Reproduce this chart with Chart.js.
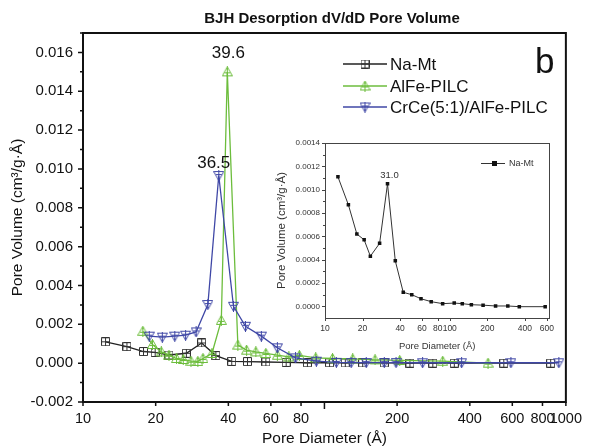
<!DOCTYPE html>
<html>
<head>
<meta charset="utf-8">
<title>BJH Desorption dV/dD Pore Volume</title>
<script src="https://cdn.jsdelivr.net/npm/chart.js@4.4.1/dist/chart.umd.min.js"></script>
<style>
body{margin:0;background:#fff;}
#box{position:relative;width:590px;height:448px;}
#main{position:absolute;left:0;top:0;}
#inset{position:absolute;left:270px;top:130px;}
</style>
</head>
<body>
<div id="box">
<canvas id="main" width="590" height="448"></canvas>
<canvas id="inset" width="290" height="222"></canvas>
</div>
<script>
// values (pore diameter in Å, dV/dD in cm3/g·Å)
const naMtX = [12.4,15.2,17.8,19.9,22.7,26.8,31.0,35.5,41.3,48.0,57.2,69.4,85,105,122,144,177,226,281,345,553,865];
const naMtY = [0.00110,0.00085,0.00060,0.00055,0.00042,0.00051,0.00104,0.00039,0.00009,0.00008,0.00006,0.00004,0.00002,0.00002,0.00001,0.00001,0.00001,0.0,0.0,0.0,0.0,0.0];
const alFeX = [17.7,19.4,21.1,22.7,24.4,26.0,28.0,29.9,31.4,34.2,37.4,39.6,43.8,47.6,52.0,57.2,63.8,71.2,78.7,92,108,131,162,205,309,476];
const alFeY = [0.00164,0.00096,0.00058,0.00041,0.00024,0.00019,0.00010,0.00009,0.00024,0.00050,0.00220,0.01500,0.00093,0.00067,0.00058,0.00050,0.00041,0.00032,0.00040,0.00027,0.00024,0.00022,0.00017,0.00014,0.00010,0.0];
const crCeX = [18.8,21.3,24.0,26.6,29.4,32.9,36.5,42.0,47.1,54.8,63.8,75.9,92.6,112,129,149,177,198,255,370,592,935];
const crCeY = [0.00139,0.00134,0.00139,0.00144,0.00161,0.00302,0.00966,0.00293,0.00190,0.00139,0.00079,0.00027,0.00010,0.00004,0.00003,0.00003,0.00003,0.00003,0.00002,0.00002,0.00002,0.00002];

const seriesNames = ['Na-Mt','AlFe-PILC','CrCe(5:1)/AlFe-PILC'];
const xTicks = [10,20,40,60,80,100,200,400,600,800,1000];
const yTicks = [-0.002,0,0.002,0.004,0.006,0.008,0.010,0.012,0.014,0.016];
const peakText = ['39.6','36.5'];
const peakX = [39.6,36.5];
const peakY = [0.0150,0.00966];

// inset: Na-Mt alone
const insetX = [12.7,15.4,18.0,20.6,23.1,27.4,31.7,36.6,42.4,49.6,58.8,71,87.7,108.6,126,149,185,233,292,361,582];
const insetY = [0.00111,0.00087,0.00062,0.00057,0.00043,0.00054,0.00105,0.00039,0.00012,0.00010,0.000065,0.00004,0.000023,0.000028,0.000023,0.000014,0.00001,0.000003,0.000003,-0.000003,-0.000003];
const insetXTicks = [10,20,40,60,80,100,200,400,600];
const insetYTicks = [0,0.0002,0.0004,0.0006,0.0008,0.0010,0.0012,0.0014];

Chart.defaults.font.family = "'Liberation Sans', Arial, sans-serif";
Chart.defaults.color = '#111';

function marker(kind, color) {
	let s = kind == 'sq' ? 9 : 11;
	let c = document.createElement('canvas');
	c.width = s; c.height = s;
	let g = c.getContext('2d');
	g.strokeStyle = color;
	g.lineWidth = 1;
	g.beginPath();
	if (kind == 'sq') {
		g.rect(0.5,0.5,8,8);
		g.moveTo(4.5,0.5); g.lineTo(4.5,8.5);
		g.moveTo(0.5,4.5); g.lineTo(8.5,4.5);
	} else if (kind == 'up') {
		g.moveTo(5.5,0.5); g.lineTo(10.5,9.5); g.lineTo(0.5,9.5); g.closePath();
		g.moveTo(5.5,0); g.lineTo(5.5,11);
		g.moveTo(2.5,6.5); g.lineTo(8.5,6.5);
	} else {
		g.moveTo(0.5,1.5); g.lineTo(10.5,1.5); g.lineTo(5.5,10.5); g.closePath();
		g.moveTo(5.5,0); g.lineTo(5.5,11);
		g.moveTo(2.5,4.5); g.lineTo(8.5,4.5);
	}
	g.stroke();
	return c;
}

function pts(xs, ys) {
	return xs.map(function (x, i) { return {x: x, y: ys[i]}; });
}

const colors = ['#222222','#6cbd3c','#3f47a6'];
const markers = [marker('sq','#333'), marker('up','#6cbd3c'), marker('dn','#3f47a6')];

const mainDecor = {
	id: 'mainDecor',
	afterDraw: function (chart) {
		let g = chart.ctx, a = chart.chartArea, xs = chart.scales.x, ys = chart.scales.y;
		g.save();
		g.strokeStyle = '#111';
		g.lineWidth = 2;
		g.strokeRect(a.left, a.top, a.right - a.left, a.bottom - a.top);
		g.lineWidth = 1.5;
		g.beginPath();
		xTicks.forEach(function (v) {
			let p = xs.getPixelForValue(v);
			g.moveTo(p, a.bottom);
			g.lineTo(p, a.bottom + (v == 100 ? 7 : 4));
		});
		for (let i = 0; i < yTicks.length; i++) {
			let p = ys.getPixelForValue(yTicks[i]);
			g.moveTo(a.left, p); g.lineTo(a.left - 5, p);
			let m = ys.getPixelForValue(yTicks[i] + 0.001);
			if (m >= a.top) { g.moveTo(a.left, m); g.lineTo(a.left - 3, m); }
		}
		g.stroke();

		// title
		g.fillStyle = '#111';
		g.textAlign = 'center';
		g.textBaseline = 'middle';
		g.font = "bold 15px 'Liberation Sans', Arial, sans-serif";
		g.fillText('BJH Desorption dV/dD Pore Volume', 332, 19);

		// peak labels
		g.font = "17px 'Liberation Sans', Arial, sans-serif";
		g.fillText(peakText[0], xs.getPixelForValue(peakX[0]) + 1, ys.getPixelForValue(peakY[0]) - 19);
		g.fillText(peakText[1], xs.getPixelForValue(peakX[1]) - 5, ys.getPixelForValue(peakY[1]) - 12);

		// panel letter
		g.textAlign = 'left';
		g.textBaseline = 'alphabetic';
		g.font = "35px 'Liberation Sans', Arial, sans-serif";
		g.fillText('b', 535, 73);

		// legend
		g.font = "17px 'Liberation Sans', Arial, sans-serif";
		g.textBaseline = 'middle';
		let rows = [64, 86, 107];
		chart.data.datasets.forEach(function (d, i) {
			g.strokeStyle = d.borderColor;
			g.lineWidth = 1.3;
			g.beginPath(); g.moveTo(343, rows[i]); g.lineTo(387, rows[i]); g.stroke();
			let m = d.pointStyle;
			g.drawImage(m, 365 - m.width / 2, rows[i] - m.height / 2);
			g.fillText(d.label, 390, rows[i] + 1);
		});
		g.restore();
	}
};

new Chart(document.getElementById('main'), {
	type: 'line',
	data: {
		datasets: [
			{label: seriesNames[0], data: pts(naMtX, naMtY), order: 2},
			{label: seriesNames[1], data: pts(alFeX, alFeY), order: 1},
			{label: seriesNames[2], data: pts(crCeX, crCeY), order: 0}
		].map(function (d, i) {
			return Object.assign(d, {
				borderColor: colors[i],
				borderWidth: 1.3,
				pointStyle: markers[i],
				pointRadius: 5,
				tension: 0,
				fill: false
			});
		})
	},
	options: {
		responsive: false,
		animation: false,
		layout: {padding: {top: 33, right: 17, left: 0, bottom: 0}},
		plugins: {legend: {display: false}, tooltip: {enabled: false}},
		scales: {
			x: {
				type: 'logarithmic',
				min: 10, max: 1000,
				afterBuildTicks: function (s) { s.ticks = xTicks.map(function (v) { return {value: v}; }); },
				afterFit: function (s) { s.height = 46; },
				ticks: {
					autoSkip: false, maxRotation: 0, minRotation: 0, padding: 8,
					font: {size: 14.5},
					callback: function (v) { return v == 100 ? '' : String(v); }
				},
				grid: {drawOnChartArea: false, drawTicks: false},
				border: {display: false},
				title: {display: true, text: 'Pore Diameter (Å)', font: {size: 15.5}, padding: {top: 0, bottom: 0}}
			},
			y: {
				min: -0.002, max: 0.017,
				afterBuildTicks: function (s) { s.ticks = yTicks.map(function (v) { return {value: v}; }); },
				afterFit: function (s) { s.width = 83; },
				ticks: {
					padding: 10,
					font: {size: 15},
					callback: function (v) { return v.toFixed(3); }
				},
				grid: {drawOnChartArea: false, drawTicks: false},
				border: {display: false},
				title: {display: true, text: 'Pore Volume (cm³/g·Å)', font: {size: 15.5}, padding: {top: 8, bottom: 0}}
			}
		}
	},
	plugins: [mainDecor]
});

const insetDecor = {
	id: 'insetDecor',
	afterDraw: function (chart) {
		let g = chart.ctx, a = chart.chartArea, xs = chart.scales.x, ys = chart.scales.y;
		g.save();
		g.strokeStyle = '#444';
		g.lineWidth = 1;
		g.strokeRect(Math.round(a.left) + 0.5, Math.round(a.top) + 0.5, Math.round(a.right - a.left), Math.round(a.bottom - a.top));
		g.beginPath();
		insetXTicks.forEach(function (v) {
			let p = Math.round(xs.getPixelForValue(v)) + 0.5;
			g.moveTo(p, a.bottom); g.lineTo(p, a.bottom + 3);
		});
		for (let i = 0; i < insetYTicks.length; i++) {
			let p = Math.round(ys.getPixelForValue(insetYTicks[i])) + 0.5;
			g.moveTo(a.left, p); g.lineTo(a.left - 3, p);
			let m = Math.round(ys.getPixelForValue(insetYTicks[i] - 0.0001)) + 0.5;
			if (m <= a.bottom) { g.moveTo(a.left, m); g.lineTo(a.left - 2, m); }
		}
		g.stroke();

		// peak label
		let k = insetY.indexOf(Math.max.apply(null, insetY.slice(3)));
		g.fillStyle = '#333';
		g.textAlign = 'center';
		g.textBaseline = 'middle';
		g.font = "9.5px 'Liberation Sans', Arial, sans-serif";
		g.fillText('31.0', xs.getPixelForValue(insetX[k]) + 2, ys.getPixelForValue(insetY[k]) - 8);

		// legend
		g.strokeStyle = '#333';
		g.beginPath(); g.moveTo(211, 33.5); g.lineTo(235, 33.5); g.stroke();
		g.fillStyle = '#111';
		g.fillRect(222, 31, 5, 5);
		g.textAlign = 'left';
		g.fillStyle = '#333';
		g.font = "9px 'Liberation Sans', Arial, sans-serif";
		g.fillText('Na-Mt', 239, 34);
		g.restore();
	}
};

new Chart(document.getElementById('inset'), {
	type: 'line',
	data: {
		datasets: [{
			label: seriesNames[0],
			data: pts(insetX, insetY),
			borderColor: '#333',
			borderWidth: 1,
			pointStyle: 'rect',
			pointRadius: 2.5,
			pointBackgroundColor: '#111',
			pointBorderColor: '#111',
			pointBorderWidth: 0,
			tension: 0
		}]
	},
	options: {
		responsive: false,
		animation: false,
		layout: {padding: {top: 13, right: 7, left: 0, bottom: 0}},
		plugins: {legend: {display: false}, tooltip: {enabled: false}},
		scales: {
			x: {
				type: 'logarithmic',
				min: 10, max: 630,
				afterBuildTicks: function (s) { s.ticks = insetXTicks.map(function (v) { return {value: v}; }); },
				afterFit: function (s) { s.height = 34; },
				ticks: {autoSkip: false, maxRotation: 0, minRotation: 0, padding: 6, color: '#333', font: {size: 8.5},
					callback: function (v) { return String(v); }},
				grid: {drawOnChartArea: false, drawTicks: false},
				border: {display: false},
				title: {display: true, text: 'Pore Diameter (Å)', color: '#333', font: {size: 9.5}, padding: {top: 4, bottom: 0}}
			},
			y: {
				min: -0.0001, max: 0.0014,
				afterBuildTicks: function (s) { s.ticks = insetYTicks.map(function (v) { return {value: v}; }); },
				afterFit: function (s) { s.width = 55; },
				ticks: {padding: 5, color: '#333', font: {size: 8},
					callback: function (v) { return v.toFixed(4); }},
				grid: {drawOnChartArea: false, drawTicks: false},
				border: {display: false},
				title: {display: true, text: 'Pore Volume (cm³/g·Å)', color: '#333', font: {size: 11.5}, padding: {top: 5, bottom: 0}}
			}
		}
	},
	plugins: [insetDecor]
});
</script>
</body>
</html>
